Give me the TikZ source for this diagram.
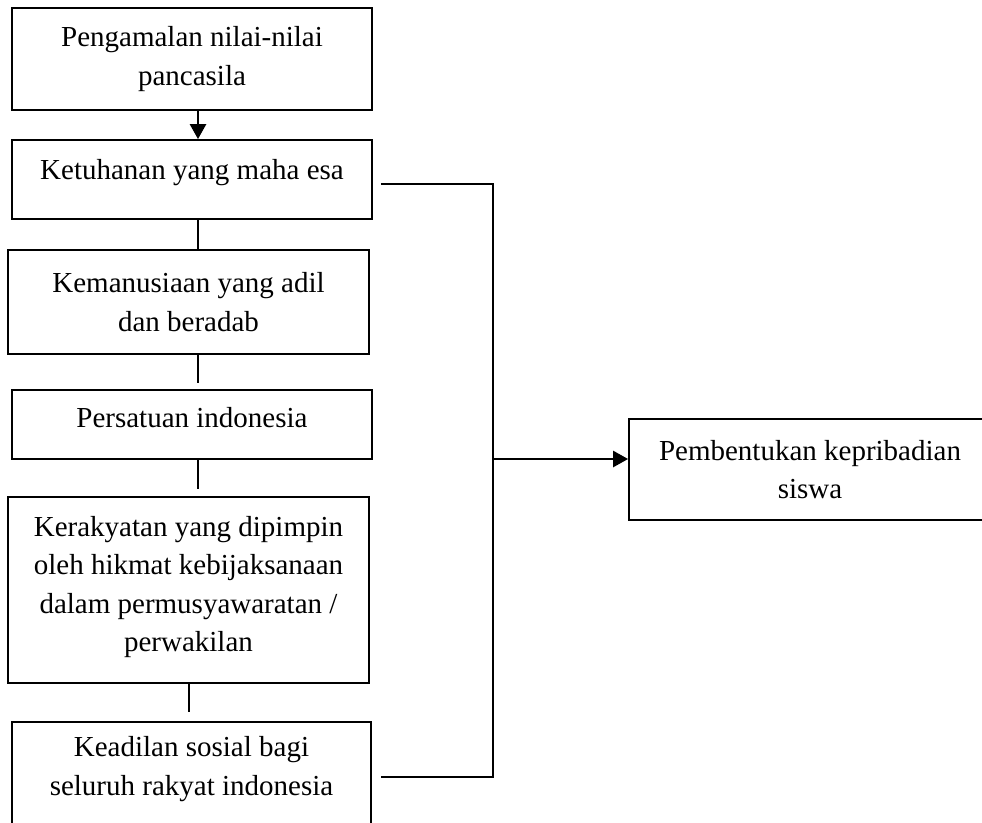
\documentclass[tikz,border=0pt]{standalone}
\usepackage{fontspec}
\setmainfont{Liberation Serif}
\usetikzlibrary{arrows.meta}
\begin{document}
\begin{tikzpicture}[x=1pt,y=-1pt,
  box/.style={draw=black,line width=1.8pt,rectangle,inner sep=0pt,align=center,
    font=\fontsize{29}{38.5}\selectfont},
  conn/.style={draw=black,line width=1.8pt},
  arr/.style={draw=black,line width=2.6pt,-{Triangle[length=15pt,width=16pt]}}]
\useasboundingbox (0,0) rectangle (982,822);
\clip (0,0) rectangle (982,822);
\node[box,minimum width=360pt,minimum height=102pt] (b1) at (192,59) {Pengamalan nilai-nilai\\pancasila};
\node[box,minimum width=360pt,minimum height=79pt,text depth=20pt] (b2) at (192,179.5) {Ketuhanan yang maha esa};
\node[box,minimum width=361pt,minimum height=104pt] (b3) at (188.5,302) {Kemanusiaan yang adil\\dan beradab};
\node[box,minimum width=360pt,minimum height=69pt,text depth=14pt] (b4) at (192,424.5) {Persatuan indonesia};
\node[box,minimum width=361pt,minimum height=186pt,text depth=12pt] (b5) at (188.5,590) {Kerakyatan yang dipimpin\\oleh hikmat kebijaksanaan\\dalam permusyawaratan /\\perwakilan};
\node[box,minimum width=359pt,minimum height=104pt,text depth=16pt] (b6) at (191.5,774) {Keadilan sosial bagi\\seluruh rakyat indonesia};
\node[box,minimum width=362pt,minimum height=101pt] (b7) at (810,469.5) {Pembentukan kepribadian\\siswa};
\coordinate (ctop) at (493,184);
\coordinate (cbot) at (493,777);
\coordinate (j) at (493,459);
% vertical chain
\draw[arr] ([xshift=6pt]b1.south) -- ([xshift=6pt]b2.north);
\draw[conn] ([xshift=6pt]b2.south) -- ([xshift=6pt]b2.south |- b3.north);
\draw[conn] ([xshift=9.5pt]b3.south) -- ([xshift=6pt,yshift=6pt]b4.north);
\draw[conn] ([xshift=6pt]b4.south) -- ([xshift=9.5pt,yshift=7pt]b5.north);
\draw[conn] ([xshift=0.5pt]b5.south) -- ([xshift=-2.5pt,yshift=9pt]b6.north);
% bracket
\draw[conn] ([xshift=8pt]b2.east |- ctop) -- (ctop) -- (cbot) -- ([xshift=9pt]b6.east |- cbot);
\draw[arr] (j) -- (j -| b7.west);
\end{tikzpicture}
\end{document}
